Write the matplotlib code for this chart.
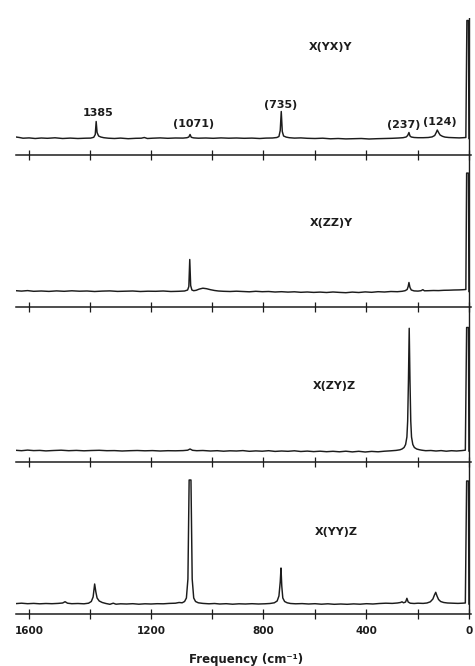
import numpy as np
import matplotlib
matplotlib.use("Agg")
import matplotlib.pyplot as plt

# ---------------- data (Raman shift in cm-1, intensity in arbitrary units above baseline) -------------
panel_names = ["X(YX)Y", "X(ZZ)Y", "X(ZY)Z", "X(YY)Z"]

YX_nu = [1643, 1632, 1620, 1600, 1580, 1560, 1540, 1515, 1490, 1465,
         1440, 1415, 1398, 1388, 1383, 1380, 1377, 1372, 1365, 1355,
         1340, 1320, 1300, 1275, 1250, 1232, 1222, 1212, 1195, 1170,
         1145, 1120, 1095, 1082, 1076, 1072, 1068, 1060, 1045, 1020,
         995, 965, 935, 905, 875, 845, 815, 790, 765, 748,
         740, 735, 731, 727, 722, 712, 700, 680, 655, 630,
         600, 570, 540, 510, 480, 450, 420, 390, 360, 330,
         300, 275, 258, 246, 240, 235, 231, 226, 215, 200,
         180, 160, 145, 135, 129, 125, 120, 114, 105, 95,
         80, 60, 40, 25, 14, 10, 4, 2]
YX_I = [1.5, 1.0, 0.3, 0.6, 0.0, 0.5, 0.2, 0.7, 0.0, 0.4,
        0.0, 0.3, 0.4, 1.2, 4.0, 17.0, 6.0, 2.5, 1.5, 0.8,
        0.3, 0.0, 0.4, -0.2, 0.2, 0.3, 1.0, 0.0, 0.3, 0.6,
        0.2, 0.5, 0.4, 0.8, 1.5, 4.0, 1.2, 0.6, 0.3, 0.5,
        0.2, 0.6, 0.3, 0.5, 0.2, 0.4, 0.0, 0.4, 0.5, 1.0,
        2.0, 8.0, 27.0, 7.0, 2.5, 1.4, 0.8, 0.4, 0.6, 0.2,
        0.0, 0.3, -0.3, 0.0, -0.4, -0.2, 0.0, -0.5, -0.2, 0.0,
        0.2, 0.5, 0.8, 1.5, 3.0, 6.0, 2.5, 1.5, 1.0, 0.8,
        0.8, 1.0, 1.6, 3.0, 6.0, 8.5, 6.0, 3.5, 2.2, 1.4,
        1.0, 0.8, 0.6, 0.8, 1.0, 118.0, 118.0, 0.0]

ZZ_nu = [1643, 1625, 1605, 1585, 1560, 1535, 1510, 1485, 1460, 1435,
         1410, 1385, 1360, 1335, 1310, 1285, 1260, 1235, 1210, 1185,
         1160, 1135, 1110, 1090, 1080, 1076, 1073, 1070, 1066, 1060,
         1052, 1042, 1030, 1018, 1005, 990, 975, 955, 930, 905,
         880, 855, 830, 805, 780, 755, 730, 705, 680, 655,
         630, 605, 580, 555, 530, 505, 480, 455, 430, 405,
         380, 355, 330, 305, 280, 262, 250, 242, 238, 235,
         231, 226, 215, 200, 188, 181, 175, 160, 140, 120,
         100, 80, 60, 40, 25, 14, 11, 4, 2]
ZZ_I = [0.8, 0.4, 0.9, 0.2, 0.5, 0.1, 0.6, 0.2, 0.7, 0.3,
        0.5, 0.0, 0.4, 0.6, 0.1, 0.3, 0.5, 0.0, 0.3, 0.2,
        0.5, 0.0, 0.2, 0.5, 1.5, 5.0, 32.0, 6.0, 1.5, 0.8,
        1.2, 2.4, 3.3, 2.8, 1.8, 1.0, 0.5, 0.2, 0.0, 0.3,
        0.0, -0.3, 0.2, -0.2, 0.0, -0.5, -0.2, -0.6, -0.3, -0.8,
        -0.5, -0.9, -0.6, -1.0, -0.5, -0.9, -1.2, -0.6, -1.0, -0.4,
        -0.8, -0.2, -0.5, 0.0, -0.2, 0.2, 0.8, 2.0, 5.0, 9.0,
        4.0, 1.5, 0.6, 0.4, 0.8, 1.8, 0.7, 0.8, 1.0, 0.9,
        1.2, 1.3, 1.5, 1.6, 1.8, 2.0, 118.4, 118.4, 0.0]

ZY_nu = [1643, 1625, 1605, 1585, 1565, 1545, 1520, 1495, 1470, 1445,
         1420, 1395, 1370, 1345, 1320, 1295, 1270, 1245, 1220, 1195,
         1170, 1145, 1120, 1095, 1080, 1072, 1064, 1050, 1030, 1005,
         980, 955, 930, 905, 880, 855, 830, 805, 780, 755,
         730, 705, 680, 655, 630, 605, 580, 555, 530, 505,
         480, 455, 430, 405, 380, 355, 330, 305, 285, 270,
         262, 254, 248, 243, 240, 237, 234, 231, 228, 225,
         220, 214, 205, 195, 185, 170, 150, 130, 110, 90,
         70, 50, 30, 16, 11, 4, 2]
ZY_I = [0.7, 0.3, 0.9, 0.4, 0.6, 0.1, 0.5, 0.8, 0.3, 0.6,
        0.2, 0.5, 0.7, 0.3, 0.4, 0.0, 0.3, 0.5, 0.2, 0.4,
        0.0, 0.3, 0.2, 0.4, 0.8, 2.0, 0.7, 0.3, 0.5, 0.0,
        0.3, -0.2, 0.2, 0.0, 0.4, -0.3, 0.1, -0.2, 0.3, -0.4,
        0.0, -0.3, 0.2, -0.5, -0.1, -0.6, -0.2, -0.7, -0.3, -0.8,
        -0.2, -0.9, -0.3, -1.0, -0.4, -0.8, -0.2, 0.2, 0.6, 1.2,
        2.0, 3.5, 6.5, 14.0, 30.0, 70.0, 122.7, 70.0, 30.0, 14.0,
        6.5, 3.5, 2.0, 1.3, 0.8, 0.3, 0.5, 0.0, 0.4, -0.2,
        0.3, 0.0, 0.4, 0.8, 123.5, 123.5, 0.0]

YY_nu = [1643, 1625, 1605, 1585, 1565, 1545, 1525, 1505, 1490, 1482,
         1474, 1460, 1440, 1420, 1405, 1396, 1390, 1385, 1381, 1377,
         1370, 1360, 1348, 1335, 1324, 1315, 1300, 1280, 1260, 1240,
         1220, 1200, 1180, 1160, 1140, 1120, 1108, 1098, 1090, 1084,
         1079, 1075, 1069, 1065, 1060, 1054, 1045, 1030, 1010, 990,
         970, 945, 920, 895, 870, 845, 820, 795, 775, 758,
         747, 740, 735, 732, 729, 725, 718, 708, 695, 675,
         650, 625, 600, 575, 550, 525, 500, 475, 450, 425,
         400, 375, 350, 325, 300, 280, 268, 262, 256, 248,
         243, 238, 230, 215, 200, 180, 165, 152, 142, 136,
         131, 126, 120, 112, 100, 85, 65, 45, 28, 16,
         11, 4, 2]
YY_I = [0.4, 0.8, 0.3, 0.6, 0.2, 0.5, 0.3, 0.6, 1.0, 2.3,
        0.8, 0.3, 0.5, 0.2, 0.8, 2.5, 7.0, 20.0, 12.0, 6.0,
        3.0, 1.5, 0.5, -0.3, 0.8, -0.2, 0.2, 0.0, 0.3, -0.2,
        0.2, 0.0, 0.3, 0.2, 0.6, 0.8, 1.5, 1.2, 2.5, 6.0,
        25.0, 124.0, 124.0, 25.0, 6.0, 2.5, 1.2, 0.6, 0.2, 0.5,
        0.0, 0.3, -0.2, 0.2, 0.0, 0.3, 0.0, 0.2, 0.5, 1.2,
        3.0, 8.0, 22.0, 36.0, 18.0, 6.0, 2.5, 1.2, 0.5, 0.2,
        0.4, 0.0, 0.3, -0.2, 0.2, -0.3, 0.0, -0.3, 0.1, -0.2,
        0.3, 0.0, 0.5, 0.8, 0.6, 1.0, 1.5, 2.2, 1.2, 2.0,
        5.7, 2.0, 0.8, 0.5, 0.8, 0.6, 1.0, 2.2, 5.0, 9.0,
        11.7, 8.0, 4.5, 2.5, 1.5, 1.0, 0.8, 0.6, 0.8, 1.0,
        123.0, 123.0, 0.0]

spectra = [(YX_nu, YX_I), (ZZ_nu, ZZ_I), (ZY_nu, ZY_I), (YY_nu, YY_I)]

peak_labels = ["1385", "(1071)", "(735)", "(237)", "(124)"]
major_ticks = [1600, 1200, 800, 400, 0]
major_labels = ["1600", "1200", "800", "400", "0"]
minor_ticks = [1400, 1000, 600, 200]

# ---------------- the chart-paper frequency scale (two scan speeds) ----------------
BREAK, STRETCH = 1000.0, 1.184


def fwd(v):
    v = np.asarray(v, dtype=float)
    return np.where(v > BREAK, BREAK + STRETCH * (v - BREAK), v)


def inv(u):
    u = np.asarray(u, dtype=float)
    return np.where(u > BREAK, BREAK + (u - BREAK) / STRETCH, u)


# ---------------- layout ----------------
W, H = 475, 666
fig = plt.figure(figsize=(W / 100, H / 100), dpi=100)
fig.patch.set_facecolor("white")

INK = "#1c1c1c"
# (spine pixel row, top pixel row, ylim)
rows = [(155, 18, (-16.5, 120.5)),
        (307, 155, (-15.5, 136.5)),
        (462, 307, (-11.0, 144.0)),
        (614, 462, (-10.0, 142.0))]
label_pos = [(538, 91.8), (535, 69.0), (526, 65.0), (516, 72.0)]

left = 16 / W
width = (471 - 16) / W
axes = []
for i, ((spine, top, ylim), (nu, inten)) in enumerate(zip(rows, spectra)):
    ax = fig.add_axes([left, (H - spine) / H, width, (spine - top) / H])
    ax.set_xscale("function", functions=(fwd, inv))
    ax.set_xlim(1643, -6)
    ax.set_ylim(*ylim)
    ax.set_facecolor("none")
    ax.plot(nu, inten, color=INK, lw=1.05, solid_joinstyle="round")
    ax.axvline(0, color=INK, lw=1.0)
    for s in ("left", "top", "right"):
        ax.spines[s].set_visible(False)
    ax.spines["bottom"].set_color(INK)
    ax.spines["bottom"].set_linewidth(1.1)
    ax.set_yticks([])
    ax.set_xticks(major_ticks)
    ax.set_xticks(minor_ticks, minor=True)
    ax.tick_params(axis="x", which="both", direction="inout", length=7,
                   width=0.9, color=INK, pad=5)
    if i == 3:
        ax.set_xticklabels(major_labels, fontsize=7.5, fontweight="bold",
                           color=INK)
    else:
        ax.set_xticklabels([])
    ax.tick_params(axis="x", which="minor", labelbottom=False)
    lx, ly = label_pos[i]
    ax.text(lx, ly, panel_names[i], ha="center", va="center", fontsize=8,
            fontweight="bold", color=INK)
    axes.append(ax)

# peak annotations on the top spectrum
ann_pos = [(1375, 25.2), (1062, 14.5), (732, 33.8), (254, 13.8), (115, 16.8)]
for txt, (px, py) in zip(peak_labels, ann_pos):
    axes[0].text(px, py, txt, ha="center", va="center", fontsize=8,
                 fontweight="bold", color=INK)

fig.text(246 / W, 1 - 659 / H, "Frequency (cm⁻¹)", ha="center", va="center",
         fontsize=8.5, fontweight="bold", color=INK)

fig.savefig("out.png", dpi=100, facecolor="white")
